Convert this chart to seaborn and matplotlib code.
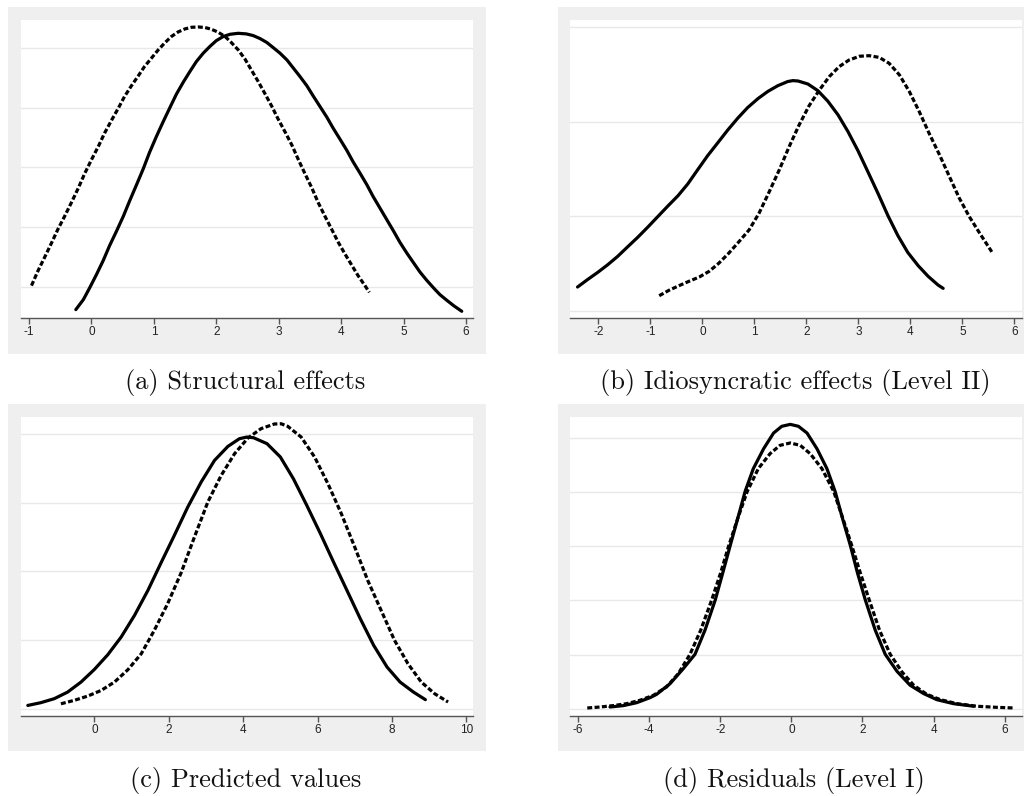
import matplotlib
matplotlib.use("Agg")
import matplotlib.pyplot as plt
from matplotlib.patches import Rectangle
import seaborn as sns
import pandas as pd

# ---------------- data ----------------
a_solid_x = [-0.25, -0.13, -0.03, 0.08, 0.19, 0.29, 0.40, 0.51, 0.61, 0.72, 0.83, 0.93, 1.04, 1.15, 1.26,
             1.36, 1.47, 1.58, 1.68, 1.79, 1.90, 2.00, 2.11, 2.22, 2.35, 2.48, 2.59, 2.70, 2.81, 2.91,
             3.02, 3.13, 3.23, 3.34, 3.45, 3.55, 3.66, 3.77, 3.87, 3.98, 4.09, 4.19, 4.30, 4.41, 4.51,
             4.62, 4.73, 4.84, 4.94, 5.05, 5.16, 5.26, 5.37, 5.48, 5.58, 5.69, 5.80, 5.93]
a_solid_y = [0.0314, 0.0397, 0.0494, 0.0606, 0.0725, 0.0847, 0.0967, 0.1092, 0.1219, 0.1353, 0.1489, 0.1625,
             0.1758, 0.1883, 0.2003, 0.2111, 0.2211, 0.2303, 0.2383, 0.2453, 0.2511, 0.2558, 0.2592, 0.2611,
             0.2619, 0.2614, 0.2600, 0.2575, 0.2542, 0.2500, 0.2453, 0.2397, 0.2331, 0.2258, 0.2181, 0.2097,
             0.2008, 0.1919, 0.1828, 0.1736, 0.1642, 0.1547, 0.1453, 0.1356, 0.1258, 0.1161, 0.1064, 0.0967,
             0.0875, 0.0786, 0.0703, 0.0628, 0.0558, 0.0494, 0.0439, 0.0392, 0.0347, 0.0300]
a_dash_x = [-0.96, -0.86, -0.75, -0.64, -0.54, -0.43, -0.32, -0.21, -0.11, 0.00, 0.11, 0.21, 0.32, 0.43,
            0.53, 0.64, 0.75, 0.85, 0.96, 1.07, 1.18, 1.28, 1.39, 1.50, 1.60, 1.71, 1.82, 1.92, 2.03, 2.14,
            2.24, 2.35, 2.46, 2.56, 2.67, 2.78, 2.89, 2.99, 3.10, 3.21, 3.31, 3.42, 3.53, 3.63, 3.74, 3.85,
            3.95, 4.06, 4.17, 4.27, 4.38, 4.45]
a_dash_y = [0.0514, 0.0633, 0.0750, 0.0869, 0.0981, 0.1092, 0.1208, 0.1328, 0.1447, 0.1564, 0.1675, 0.1786,
            0.1892, 0.1994, 0.2092, 0.2181, 0.2264, 0.2342, 0.2411, 0.2481, 0.2542, 0.2592, 0.2631, 0.2656,
            0.2669, 0.2672, 0.2667, 0.2653, 0.2628, 0.2592, 0.2542, 0.2481, 0.2403, 0.2314, 0.2217, 0.2114,
            0.2008, 0.1903, 0.1797, 0.1686, 0.1569, 0.1447, 0.1328, 0.1208, 0.1092, 0.0981, 0.0878, 0.0778,
            0.0683, 0.0597, 0.0514, 0.0458]

b_solid_x = [-2.40, -2.21, -2.01, -1.82, -1.63, -1.44, -1.24, -1.05, -0.86, -0.67, -0.47, -0.28, -0.09,
             0.10, 0.30, 0.49, 0.68, 0.87, 1.07, 1.26, 1.45, 1.64, 1.74, 1.84, 2.03, 2.22, 2.41, 2.61, 2.80,
             2.99, 3.18, 3.38, 3.57, 3.76, 3.95, 4.15, 4.34, 4.53, 4.63]
b_solid_y = [0.0625, 0.0664, 0.0703, 0.0743, 0.0787, 0.0837, 0.0889, 0.0942, 0.0997, 0.1052, 0.1108, 0.1171,
             0.1246, 0.1320, 0.1390, 0.1457, 0.1519, 0.1575, 0.1623, 0.1661, 0.1691, 0.1713, 0.1718, 0.1716,
             0.1700, 0.1665, 0.1610, 0.1536, 0.1448, 0.1348, 0.1237, 0.1119, 0.1002, 0.0897, 0.0808, 0.0738,
             0.0682, 0.0636, 0.0618]
b_dash_x = [-0.83, -0.64, -0.45, -0.26, -0.06, 0.13, 0.32, 0.51, 0.71, 0.90, 1.09, 1.28, 1.48, 1.67, 1.86,
            2.05, 2.25, 2.44, 2.63, 2.82, 3.02, 3.21, 3.40, 3.59, 3.79, 3.98, 4.17, 4.36, 4.56, 4.75, 4.94,
            5.13, 5.33, 5.58]
b_dash_y = [0.0579, 0.0608, 0.0632, 0.0655, 0.0678, 0.0708, 0.0752, 0.0805, 0.0867, 0.0928, 0.1016, 0.1126,
            0.1246, 0.1369, 0.1483, 0.1584, 0.1668, 0.1739, 0.1792, 0.1827, 0.1847, 0.1850, 0.1841, 0.1810,
            0.1748, 0.1660, 0.1554, 0.1439, 0.1325, 0.1210, 0.1096, 0.0999, 0.0911, 0.0805]

c_solid_x = [-1.79, -1.44, -1.08, -0.72, -0.36, 0.00, 0.36, 0.72, 1.08, 1.44, 1.79, 2.15, 2.51, 2.87, 3.23,
             3.59, 3.90, 4.10, 4.28, 4.64, 5.00, 5.35, 5.71, 6.07, 6.43, 6.79, 7.15, 7.51, 7.87, 8.22, 8.58,
             8.90]
c_solid_y = [0.0024, 0.0044, 0.0073, 0.0121, 0.0194, 0.0286, 0.0393, 0.0522, 0.0680, 0.0862, 0.1061, 0.1262,
             0.1468, 0.1650, 0.1808, 0.1910, 0.1966, 0.1978, 0.1973, 0.1930, 0.1833, 0.1675, 0.1481, 0.1279,
             0.1068, 0.0862, 0.0655, 0.0461, 0.0303, 0.0194, 0.0121, 0.0066]
c_dash_x = [-0.90, -0.54, -0.18, 0.18, 0.54, 0.90, 1.26, 1.61, 1.97, 2.33, 2.69, 3.05, 3.41, 3.77, 4.13,
            4.48, 4.84, 5.02, 5.20, 5.56, 5.92, 6.28, 6.64, 7.00, 7.35, 7.71, 8.07, 8.43, 8.79, 9.15, 9.51]
c_dash_y = [0.0036, 0.0061, 0.0092, 0.0133, 0.0194, 0.0284, 0.0400, 0.0570, 0.0765, 0.0988, 0.1250, 0.1505,
            0.1699, 0.1857, 0.1971, 0.2039, 0.2073, 0.2075, 0.2056, 0.1978, 0.1833, 0.1638, 0.1420, 0.1177,
            0.0934, 0.0716, 0.0498, 0.0328, 0.0194, 0.0109, 0.0049]

d_solid_x = [-5.10, -4.72, -4.35, -3.97, -3.79, -3.41, -3.04, -2.71, -2.43, -2.14, -1.93, -1.72, -1.51,
             -1.30, -1.07, -0.78, -0.50, -0.27, -0.03, 0.20, 0.44, 0.72, 1.00, 1.23, 1.44, 1.66, 1.86, 2.08,
             2.36, 2.64, 2.97, 3.34, 3.72, 4.09, 4.56, 5.13]
d_solid_y = [0.0015, 0.0028, 0.0055, 0.0102, 0.0132, 0.0231, 0.0369, 0.0502, 0.0724, 0.1004, 0.1253, 0.1506,
             0.1755, 0.2007, 0.2217, 0.2401, 0.2546, 0.2608, 0.2626, 0.2608, 0.2546, 0.2401, 0.2217, 0.2007,
             0.1755, 0.1506, 0.1253, 0.1004, 0.0724, 0.0502, 0.0345, 0.0216, 0.0139, 0.0083, 0.0046, 0.0022]
d_dash_x = [-5.74, -5.38, -5.01, -4.63, -4.26, -3.88, -3.51, -3.18, -2.85, -2.55, -2.24, -1.99, -1.76,
            -1.51, -1.24, -0.93, -0.60, -0.32, -0.03, 0.25, 0.53, 0.86, 1.19, 1.45, 1.70, 1.94, 2.19, 2.48,
            2.78, 3.11, 3.44, 3.81, 4.19, 4.66, 5.22, 5.78, 6.27]
d_dash_y = [0.0006, 0.0015, 0.0028, 0.0046, 0.0077, 0.0123, 0.0200, 0.0323, 0.0502, 0.0724, 0.1004, 0.1253,
            0.1506, 0.1755, 0.2007, 0.2217, 0.2355, 0.2432, 0.2454, 0.2432, 0.2355, 0.2217, 0.2007, 0.1755,
            0.1506, 0.1253, 0.1004, 0.0724, 0.0502, 0.0339, 0.0216, 0.0132, 0.0083, 0.0046, 0.0022, 0.0012,
            0.0006]

a_ticks = [-1, 0, 1, 2, 3, 4, 5, 6]
b_ticks = [-2, -1, 0, 1, 2, 3, 4, 5, 6]
c_ticks = [0, 2, 4, 6, 8, 10]
d_ticks = [-6, -4, -2, 0, 2, 4, 6]

a_grid = [0.05, 0.10, 0.15, 0.20, 0.25]
b_grid = [0.05, 0.10, 0.15, 0.20]
c_grid = [0.0, 0.05, 0.10, 0.15, 0.20]
d_grid = [0.0, 0.05, 0.10, 0.15, 0.20, 0.25]

captions = ["(a) Structural effects", "(b) Idiosyncratic effects (Level II)",
            "(c) Predicted values", "(d) Residuals (Level I)"]

# ---------------- layout ----------------
sns.set_style("white")
plt.rcParams["font.family"] = ["Liberation Sans", "DejaVu Sans"]

W, H = 1027, 796
fig = plt.figure(figsize=(W / 100, H / 100), dpi=100)
fig.patch.set_facecolor("white")

GRAY = "#efefef"


def px_rect(x0, y0, x1, y1):
    return [x0 / W, 1 - y1 / H, (x1 - x0) / W, (y1 - y0) / H]


panels = [
    dict(gray=(8, 7, 486, 354), ax=(21, 20, 473, 318), xlim=(-1.128, 6.11), ylim=(0.0244, 0.273),
         solid=(a_solid_x, a_solid_y), dash=(a_dash_x, a_dash_y), ticks=a_ticks, grid=a_grid,
         cap=(245, 383)),
    dict(gray=(558, 7, 1024, 354), ax=(570, 20, 1022, 318), xlim=(-2.545, 6.146), ylim=(0.0461, 0.2039),
         solid=(b_solid_x, b_solid_y), dash=(b_dash_x, b_dash_y), ticks=b_ticks, grid=b_grid,
         cap=(795, 383)),
    dict(gray=(8, 404, 486, 751), ax=(21, 417, 473, 716), xlim=(-1.973, 10.18), ylim=(-0.0053, 0.2124),
         solid=(c_solid_x, c_solid_y), dash=(c_dash_x, c_dash_y), ticks=c_ticks, grid=c_grid,
         cap=(246, 780)),
    dict(gray=(558, 404, 1024, 751), ax=(570, 417, 1022, 716), xlim=(-6.225, 6.486), ylim=(-0.0068, 0.2694),
         solid=(d_solid_x, d_solid_y), dash=(d_dash_x, d_dash_y), ticks=d_ticks, grid=d_grid,
         cap=(794, 780)),
]

for p, cap in zip(panels, captions):
    gx0, gy0, gx1, gy1 = p["gray"]
    fig.patches.append(Rectangle((gx0 / W, 1 - gy1 / H), (gx1 - gx0) / W, (gy1 - gy0) / H,
                                 transform=fig.transFigure, facecolor=GRAY, edgecolor="none", zorder=-5))
    ax = fig.add_axes(px_rect(*p["ax"]))
    ax.set_zorder(2)
    ax.set_facecolor("white")

    sdf = pd.DataFrame({"x": p["solid"][0], "y": p["solid"][1]})
    ddf = pd.DataFrame({"x": p["dash"][0], "y": p["dash"][1]})
    sns.lineplot(data=sdf, x="x", y="y", ax=ax, color="black", linewidth=2.3,
                 estimator=None, sort=False, zorder=3)
    sns.lineplot(data=ddf, x="x", y="y", ax=ax, color="black", linewidth=2.3,
                 linestyle=(0, (1.55, 0.75)), estimator=None, sort=False, zorder=3)
    for ln in ax.lines:
        ln.set_solid_joinstyle("round")
        ln.set_dash_joinstyle("round")

    ax.set_xlim(*p["xlim"])
    ax.set_ylim(*p["ylim"])
    ax.set_xticks(p["ticks"], labels=[str(t) for t in p["ticks"]])
    ax.set_yticks(p["grid"], labels=[])
    ax.yaxis.grid(True, color="#e8e8e8", linewidth=1.0, zorder=0)
    ax.xaxis.grid(False)
    ax.set_axisbelow(True)
    for s in ["left", "right", "top"]:
        ax.spines[s].set_visible(False)
    ax.spines["bottom"].set_color("#555555")
    ax.spines["bottom"].set_linewidth(1.0)
    ax.tick_params(axis="x", direction="out", length=4, width=1, color="#555555",
                   labelsize=8.5, labelcolor="#222222", pad=2, bottom=True)
    ax.tick_params(axis="y", length=0, left=False)
    ax.set_xlabel("")
    ax.set_ylabel("")

    fig.text(p["cap"][0] / W, 1 - p["cap"][1] / H, cap, ha="center", va="center",
             fontsize=19, family="cmr10", color="#111111")

fig.savefig("out.png", dpi=100, facecolor="white")
